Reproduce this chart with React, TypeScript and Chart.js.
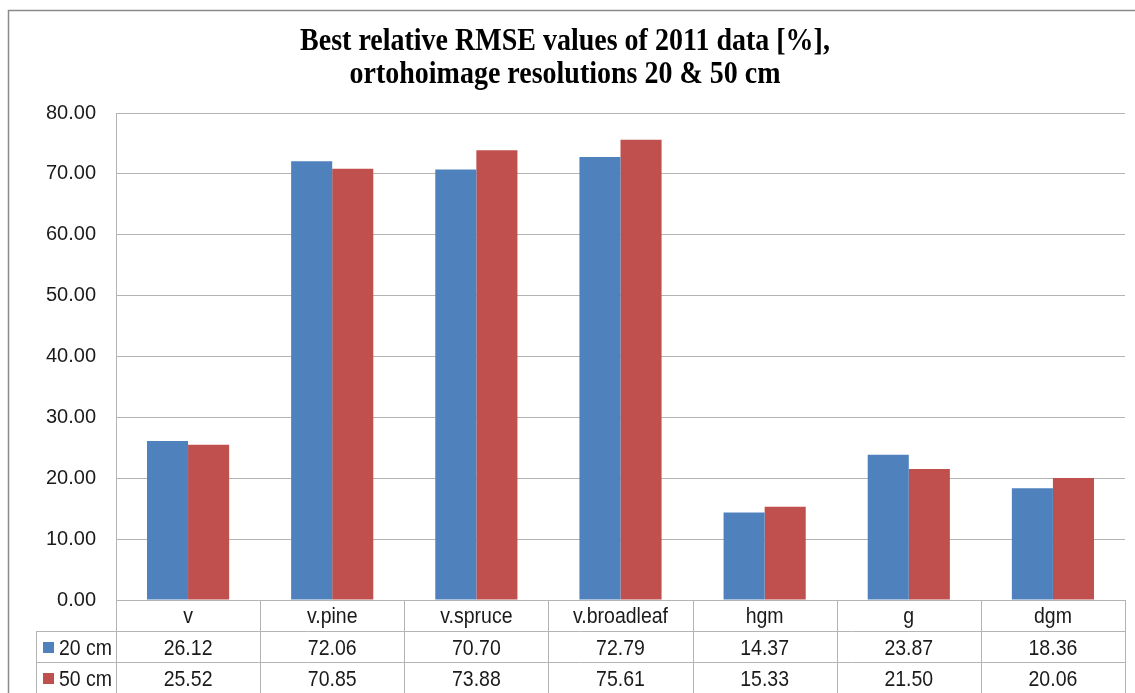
import React, { useEffect, useRef } from "react";
import { Chart, registerables } from "chart.js";

Chart.register(...registerables);

const categories = ["v", "v.pine", "v.spruce", "v.broadleaf", "hgm", "g", "dgm"];
const values20 = [26.12, 72.06, 70.7, 72.79, 14.37, 23.87, 18.36];
const values50 = [25.52, 70.85, 73.88, 75.61, 15.33, 21.5, 20.06];
const seriesLabels = ["20 cm", "50 cm"];
const seriesColors = ["#4F81BD", "#C0504D"];
const titleLines = [
  "Best relative RMSE values of 2011 data [%],",
  "ortohoimage resolutions 20 & 50 cm",
];
const yMin = 0;
const yMax = 80;
const yStep = 10;

const GRID = "#b4b4b4";
const TEXT = "#1a1a1a";
const SANS = "'Liberation Sans', Arial, sans-serif";
const SERIF = "'Liberation Serif', 'Times New Roman', serif";

function tallText(ctx: any, text: string, x: number, y: number, sy: number) {
  ctx.save();
  ctx.translate(x, y);
  ctx.scale(1, sy);
  ctx.fillText(text, 0, 0);
  ctx.restore();
}

const decorPlugin = {
  id: "decor",
  beforeDraw(chart: any) {
    const ctx = chart.ctx;
    ctx.save();
    ctx.fillStyle = "#ffffff";
    ctx.fillRect(0, 0, chart.width, chart.height);
    ctx.restore();
  },
  afterDraw(chart: any) {
    const ctx = chart.ctx;
    const { left, right, bottom } = chart.chartArea;
    const xs = chart.scales.x;
    ctx.save();

    // outer frame
    ctx.strokeStyle = "#8a8a8a";
    ctx.lineWidth = 1.5;
    ctx.beginPath();
    ctx.moveTo(8.5, chart.height + 2);
    ctx.lineTo(8.5, 10.5);
    ctx.lineTo(chart.width + 2, 10.5);
    ctx.stroke();

    // title
    ctx.fillStyle = "#000000";
    ctx.font = `bold 28px ${SERIF}`;
    ctx.textAlign = "center";
    ctx.textBaseline = "alphabetic";
    tallText(ctx, titleLines[0], 565, 50, 1.13);
    tallText(ctx, titleLines[1], 565, 83, 1.13);

    // data table
    const rowH = 31;
    const r0 = bottom;
    const r1 = r0 + rowH;
    const r2 = r1 + rowH;
    const r3 = r2 + rowH;
    const legLeft = left - 80;
    const n = categories.length;
    const cw = (right - left) / n;

    ctx.strokeStyle = GRID;
    ctx.lineWidth = 1;
    const hline = (y: number, x0: number, x1: number) => {
      ctx.beginPath();
      ctx.moveTo(x0, Math.round(y) + 0.5);
      ctx.lineTo(x1, Math.round(y) + 0.5);
      ctx.stroke();
    };
    const vline = (x: number, y0: number, y1: number) => {
      ctx.beginPath();
      ctx.moveTo(Math.round(x) + 0.5, y0);
      ctx.lineTo(Math.round(x) + 0.5, y1);
      ctx.stroke();
    };
    hline(r0, left, right);
    hline(r1, legLeft, right);
    hline(r2, legLeft, right);
    vline(legLeft, r1, r3 + 2);
    vline(left, r0, r3 + 2);
    for (let i = 0; i < n; i++) {
      const cx = xs.getPixelForValue(i);
      vline(cx + cw / 2, r0, r3 + 2);
    }

    ctx.fillStyle = TEXT;
    ctx.font = `19.5px ${SANS}`;
    ctx.textAlign = "center";
    ctx.textBaseline = "alphabetic";
    const rows = [values20, values50];
    const base = rowH / 2 + 8;
    for (let i = 0; i < n; i++) {
      const cx = xs.getPixelForValue(i);
      tallText(ctx, categories[i], cx, r0 + base - 0.5, 1.13);
      tallText(ctx, rows[0][i].toFixed(2), cx, r1 + base, 1.13);
      tallText(ctx, rows[1][i].toFixed(2), cx, r2 + base, 1.13);
    }

    // legend keys in table
    const rowTops = [r1, r2];
    for (let s = 0; s < 2; s++) {
      const cy = rowTops[s] + rowH / 2 + 1;
      ctx.fillStyle = seriesColors[s];
      ctx.fillRect(legLeft + 7, cy - 5.5, 11, 11);
      ctx.fillStyle = TEXT;
      ctx.textAlign = "left";
      tallText(ctx, seriesLabels[s], legLeft + 23, rowTops[s] + base, 1.13);
    }
    ctx.restore();
  },
};

export default function App() {
  const ref = useRef<HTMLCanvasElement | null>(null);

  useEffect(() => {
    document.body.style.margin = "0";
    const canvas = ref.current;
    if (!canvas) return;
    const chart = new Chart(canvas, {
      type: "bar",
      data: {
        labels: categories,
        datasets: [
          {
            label: seriesLabels[0],
            data: values20,
            backgroundColor: seriesColors[0],
            borderWidth: 0,
            categoryPercentage: 0.57,
            barPercentage: 1,
          },
          {
            label: seriesLabels[1],
            data: values50,
            backgroundColor: seriesColors[1],
            borderWidth: 0,
            categoryPercentage: 0.57,
            barPercentage: 1,
          },
        ],
      },
      options: {
        animation: false,
        responsive: true,
        maintainAspectRatio: false,
        layout: { padding: { top: 113, left: 0, right: 10, bottom: 93 } },
        plugins: {
          legend: { display: false },
          tooltip: { enabled: false },
          title: { display: false },
        },
        scales: {
          x: {
            display: false,
          },
          y: {
            min: yMin,
            max: yMax,
            afterFit: (s: any) => {
              s.width = 116;
            },
            ticks: {
              stepSize: yStep,
              padding: 20,
              color: TEXT,
              font: { family: SANS, size: 20 },
              callback: (v: any) => Number(v).toFixed(2),
            },
            grid: { color: GRID, lineWidth: 1, drawTicks: false },
            border: { display: true, color: GRID, width: 1 },
          },
        },
      },
      plugins: [decorPlugin],
    });
    return () => chart.destroy();
  }, []);

  return (
    <div style={{ position: "relative", width: 1135, height: 693 }}>
      <canvas ref={ref} />
    </div>
  );
}
